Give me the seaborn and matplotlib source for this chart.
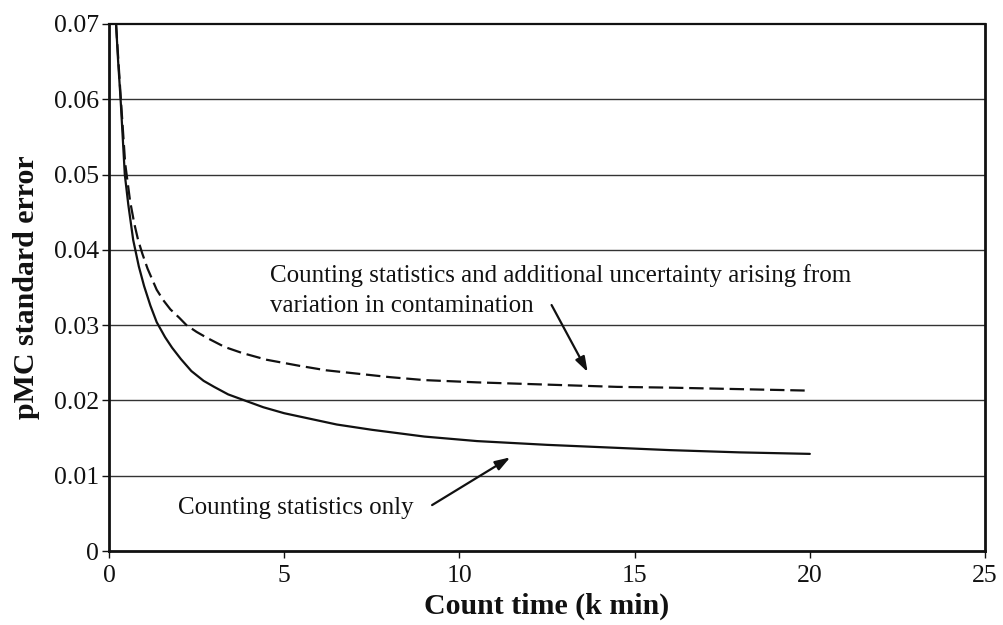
import matplotlib
matplotlib.use("Agg")
import matplotlib.pyplot as plt
import seaborn as sns
import pandas as pd

# Count time (k min) and pMC standard error
t_counting = [0.2, 0.26, 0.33, 0.39, 0.45, 0.55, 0.69, 0.85, 1.0, 1.18, 1.36, 1.6, 1.8, 2.05,
              2.35, 2.7, 3.0, 3.4, 3.87, 4.4, 5.0, 5.7, 6.5, 7.5, 9.0, 10.5, 12.5, 14.5, 16.0,
              18.0, 20.0]
err_counting = [0.070, 0.065, 0.060, 0.055, 0.050, 0.046, 0.0413, 0.0378, 0.0352, 0.0326,
                0.0304, 0.0284, 0.0270, 0.0255, 0.0239, 0.0226, 0.0218, 0.0208, 0.0200, 0.0191,
                0.0183, 0.0176, 0.0168, 0.0161, 0.0152, 0.0146, 0.0141, 0.0137, 0.0134,
                0.0131, 0.0129]

t_contam = [0.2, 0.33, 0.46, 0.6, 0.72, 0.83, 0.95, 1.1, 1.36, 1.55, 1.75, 2.0, 2.21, 2.5, 2.8,
            3.3, 3.8, 4.5, 5.43, 6.2, 7.0, 8.0, 9.0, 10.5, 12.5, 14.5, 16.0, 18.0, 20.0]
err_contam = [0.070, 0.0605, 0.0515, 0.0465, 0.0435, 0.0413, 0.0395, 0.0375, 0.0347, 0.0333,
              0.0321, 0.0310, 0.0300, 0.0291, 0.0283, 0.0271, 0.0263, 0.0254, 0.0246, 0.0240,
              0.0236, 0.0231, 0.0227, 0.0224, 0.0221, 0.0218, 0.0217, 0.0215, 0.0213]

x_ticks = [0, 5, 10, 15, 20, 25]
y_ticks = [0, 0.01, 0.02, 0.03, 0.04, 0.05, 0.06, 0.07]
y_tick_labels = ["0", "0.01", "0.02", "0.03", "0.04", "0.05", "0.06", "0.07"]

label_counting = "Counting statistics only"
label_contam_1 = "Counting statistics and additional uncertainty arising from"
label_contam_2 = "variation in contamination"

sns.set_style("white")
plt.rcParams["font.family"] = ["Liberation Serif", "DejaVu Serif"]

fig = plt.figure(figsize=(10.04, 6.25), dpi=100)
ax = fig.add_axes([0.1086, 0.1184, 0.8725, 0.8432])

df1 = pd.DataFrame({"t": t_counting, "err": err_counting})
df2 = pd.DataFrame({"t": t_contam, "err": err_contam})

sns.lineplot(data=df1, x="t", y="err", ax=ax, color="#111111", linewidth=1.6, sort=False)
sns.lineplot(data=df2, x="t", y="err", ax=ax, color="#111111", linewidth=1.6, sort=False,
             dashes=False, linestyle=(0, (6.5, 2.6)))

ax.set_xlim(0, 25)
ax.set_ylim(0, 0.07)
ax.set_xticks(x_ticks)
ax.set_xticklabels([str(v) for v in x_ticks])
ax.set_yticks(y_ticks)
ax.set_yticklabels(y_tick_labels)

for yv in y_ticks[1:-1]:
    ax.axhline(yv, color="#333333", linewidth=1.0, zorder=0)

for side in ["left", "bottom", "right", "top"]:
    ax.spines[side].set_visible(True)
    ax.spines[side].set_color("#111111")
ax.spines["left"].set_linewidth(2.0)
ax.spines["bottom"].set_linewidth(2.0)
ax.spines["right"].set_linewidth(2.0)
ax.spines["top"].set_linewidth(1.6)

ax.tick_params(axis="both", which="major", direction="out", length=5, width=1.0,
               color="#111111", labelsize=18.5, labelcolor="#111111")
ax.tick_params(axis="x", pad=5)
ax.tick_params(axis="y", pad=2)
ax.yaxis.set_ticks_position("left")
ax.xaxis.set_ticks_position("bottom")

ax.set_xlabel("Count time (k min)", fontsize=21.5, fontweight="bold", color="#111111", labelpad=4)
ax.set_ylabel("pMC standard error", fontsize=21.5, fontweight="bold", color="#111111", labelpad=10)

ax.text(1.96, 0.00491, label_counting, fontsize=18, color="#111111", va="baseline", ha="left")
ax.text(4.58, 0.03572, label_contam_1, fontsize=18, color="#111111", va="baseline", ha="left")
ax.text(4.58, 0.03174, label_contam_2, fontsize=18, color="#111111", va="baseline", ha="left")

ax.annotate("", xy=(11.45, 0.01244), xytext=(9.22, 0.0061),
            arrowprops=dict(arrowstyle="-|>,head_length=0.9,head_width=0.3", color="#111111",
                            linewidth=1.6, shrinkA=0, shrinkB=0))
ax.annotate("", xy=(13.66, 0.02377), xytext=(12.63, 0.03267),
            arrowprops=dict(arrowstyle="-|>,head_length=0.9,head_width=0.3", color="#111111",
                            linewidth=1.6, shrinkA=0, shrinkB=0))

fig.savefig("out.png", dpi=100)
